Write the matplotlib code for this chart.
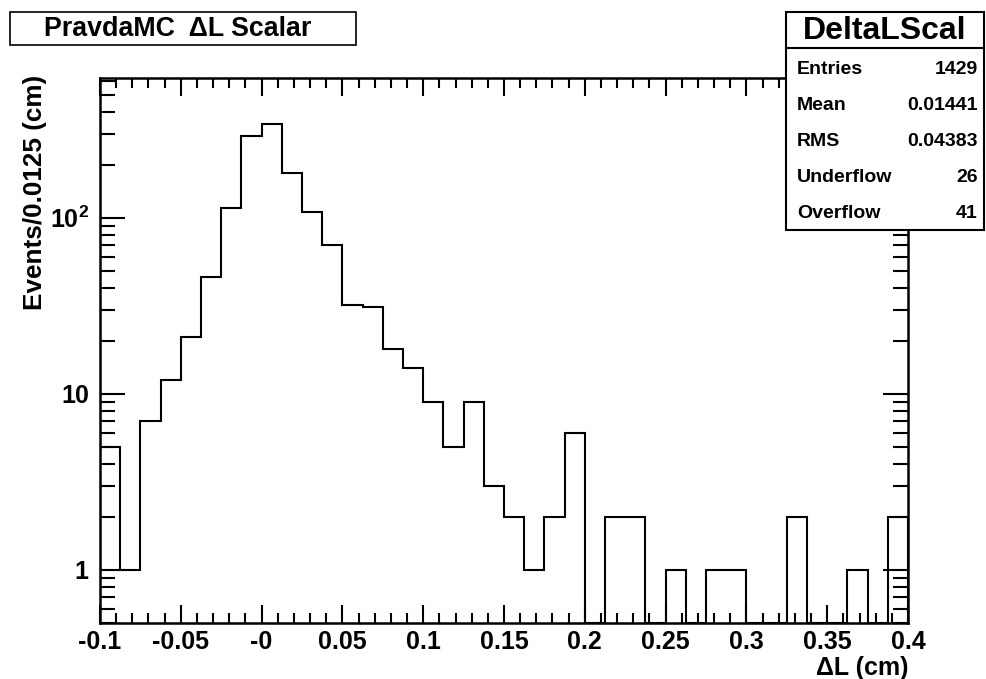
import numpy as np
import matplotlib
matplotlib.use("Agg")
import matplotlib.pyplot as plt
from matplotlib.ticker import FixedLocator, FixedFormatter, LogLocator
from matplotlib.patches import Rectangle

plt.rcParams['font.family'] = ['Liberation Sans', 'DejaVu Sans']
plt.rcParams['font.weight'] = 'bold'
plt.rcParams['mathtext.fontset'] = 'custom'
plt.rcParams['mathtext.rm'] = 'Liberation Sans'
plt.rcParams['mathtext.bf'] = 'Liberation Sans:bold'

# histogram: 40 bins of 0.0125 cm between -0.1 and 0.4
edges = np.linspace(-0.1, 0.4, 41)
counts = [5, 1, 7, 12, 21, 46, 114, 292, 338, 180,
          107, 70, 32, 31, 18, 14, 9, 5, 9, 3,
          2, 1, 2, 6, 0, 2, 2, 0, 1, 0,
          1, 1, 0, 0, 2, 0, 0, 1, 0, 2]

xticks = [-0.1, -0.05, 0.0, 0.05, 0.1, 0.15, 0.2, 0.25, 0.3, 0.35, 0.4]
xtick_labels = ['-0.1', '-0.05', '-0', '0.05', '0.1', '0.15', '0.2',
                '0.25', '0.3', '0.35', '0.4']
yticks = [1, 10, 100]
ytick_labels = ['1', '10', r'$\mathbf{10^{2}}$']

stat_names = ['Entries', 'Mean', 'RMS', 'Underflow', 'Overflow']
stat_values = ['1429', '0.01441', '0.04383', '26', '41']

ymin, ymax = 0.5, 620

fig = plt.figure(figsize=(9.86, 6.79), dpi=100)
ax = fig.add_axes([0.1014, 0.0825, 0.8195, 0.8025])

# empty bins drop to the bottom of the frame
vals = np.where(np.array(counts) > 0, counts, ymin)
ax.stairs(vals, edges, baseline=ymin, color='black', lw=1.5)

ax.set_yscale('log')
ax.set_xlim(-0.1, 0.4)
ax.set_ylim(ymin, ymax)

ax.xaxis.set_major_locator(FixedLocator(xticks))
ax.xaxis.set_major_formatter(FixedFormatter(xtick_labels))
ax.xaxis.set_minor_locator(FixedLocator(np.arange(-0.1, 0.4001, 0.01)))
ax.yaxis.set_major_locator(FixedLocator(yticks))
ax.yaxis.set_major_formatter(FixedFormatter(ytick_labels))
ax.yaxis.set_minor_locator(LogLocator(base=10, subs=np.arange(2, 10)))
ax.yaxis.set_minor_formatter(FixedFormatter([]))

ax.tick_params(axis='both', which='both', direction='in', top=True,
               right=True, labelsize=18, width=1.5)
ax.tick_params(axis='x', which='major', length=13, pad=5)
ax.tick_params(axis='x', which='minor', length=7)
ax.tick_params(axis='y', which='major', length=18, pad=8)
ax.tick_params(axis='y', which='minor', length=11)
for lab in ax.get_xticklabels() + ax.get_yticklabels():
    lab.set_fontweight('bold')
for s in ax.spines.values():
    s.set_linewidth(1.8)

ax.set_ylabel('Events/0.0125 (cm)', fontsize=18.8, fontweight='bold')
ax.yaxis.set_label_coords(-0.066, 1.006)
ax.yaxis.label.set_ha('right')
fig.text(0.921, 0.006, 'ΔL (cm)', ha='right', va='baseline', fontsize=18,
         fontweight='bold')

# title box
fig.patches.append(Rectangle((10 / 986, 1 - 45 / 679), 346 / 986, 33 / 679,
                             transform=fig.transFigure, fill=True,
                             facecolor='white', edgecolor='black', lw=1.2))
fig.text(178 / 986, 1 - 29 / 679, 'PravdaMC  ΔL Scalar', ha='center',
         va='center', fontsize=19.3, fontweight='bold')

# statistics box
bx0, bx1 = 786 / 986, 984 / 986
by0, by1 = 1 - 230 / 679, 1 - 12 / 679
fig.patches.append(Rectangle((bx0, by0), bx1 - bx0, by1 - by0,
                             transform=fig.transFigure, facecolor='white',
                             edgecolor='black', lw=1.5, zorder=5))
fig.add_artist(plt.Line2D([bx0, bx1], [1 - 48 / 679] * 2, color='black',
                          lw=1.5, transform=fig.transFigure, zorder=6))
fig.text((bx0 + bx1) / 2, 1 - 31 / 679, 'DeltaLScal', ha='center',
         va='center', fontsize=23, fontweight='bold', zorder=7)
for i, (name, val) in enumerate(zip(stat_names, stat_values)):
    y = 1 - (69 + 36 * i) / 679
    fig.text(797 / 986, y, name, ha='left', va='center', fontsize=14,
             fontweight='bold', zorder=7)
    fig.text(978 / 986, y, val, ha='right', va='center', fontsize=14,
             fontweight='bold', zorder=7)

fig.savefig('out.png', dpi=100)
